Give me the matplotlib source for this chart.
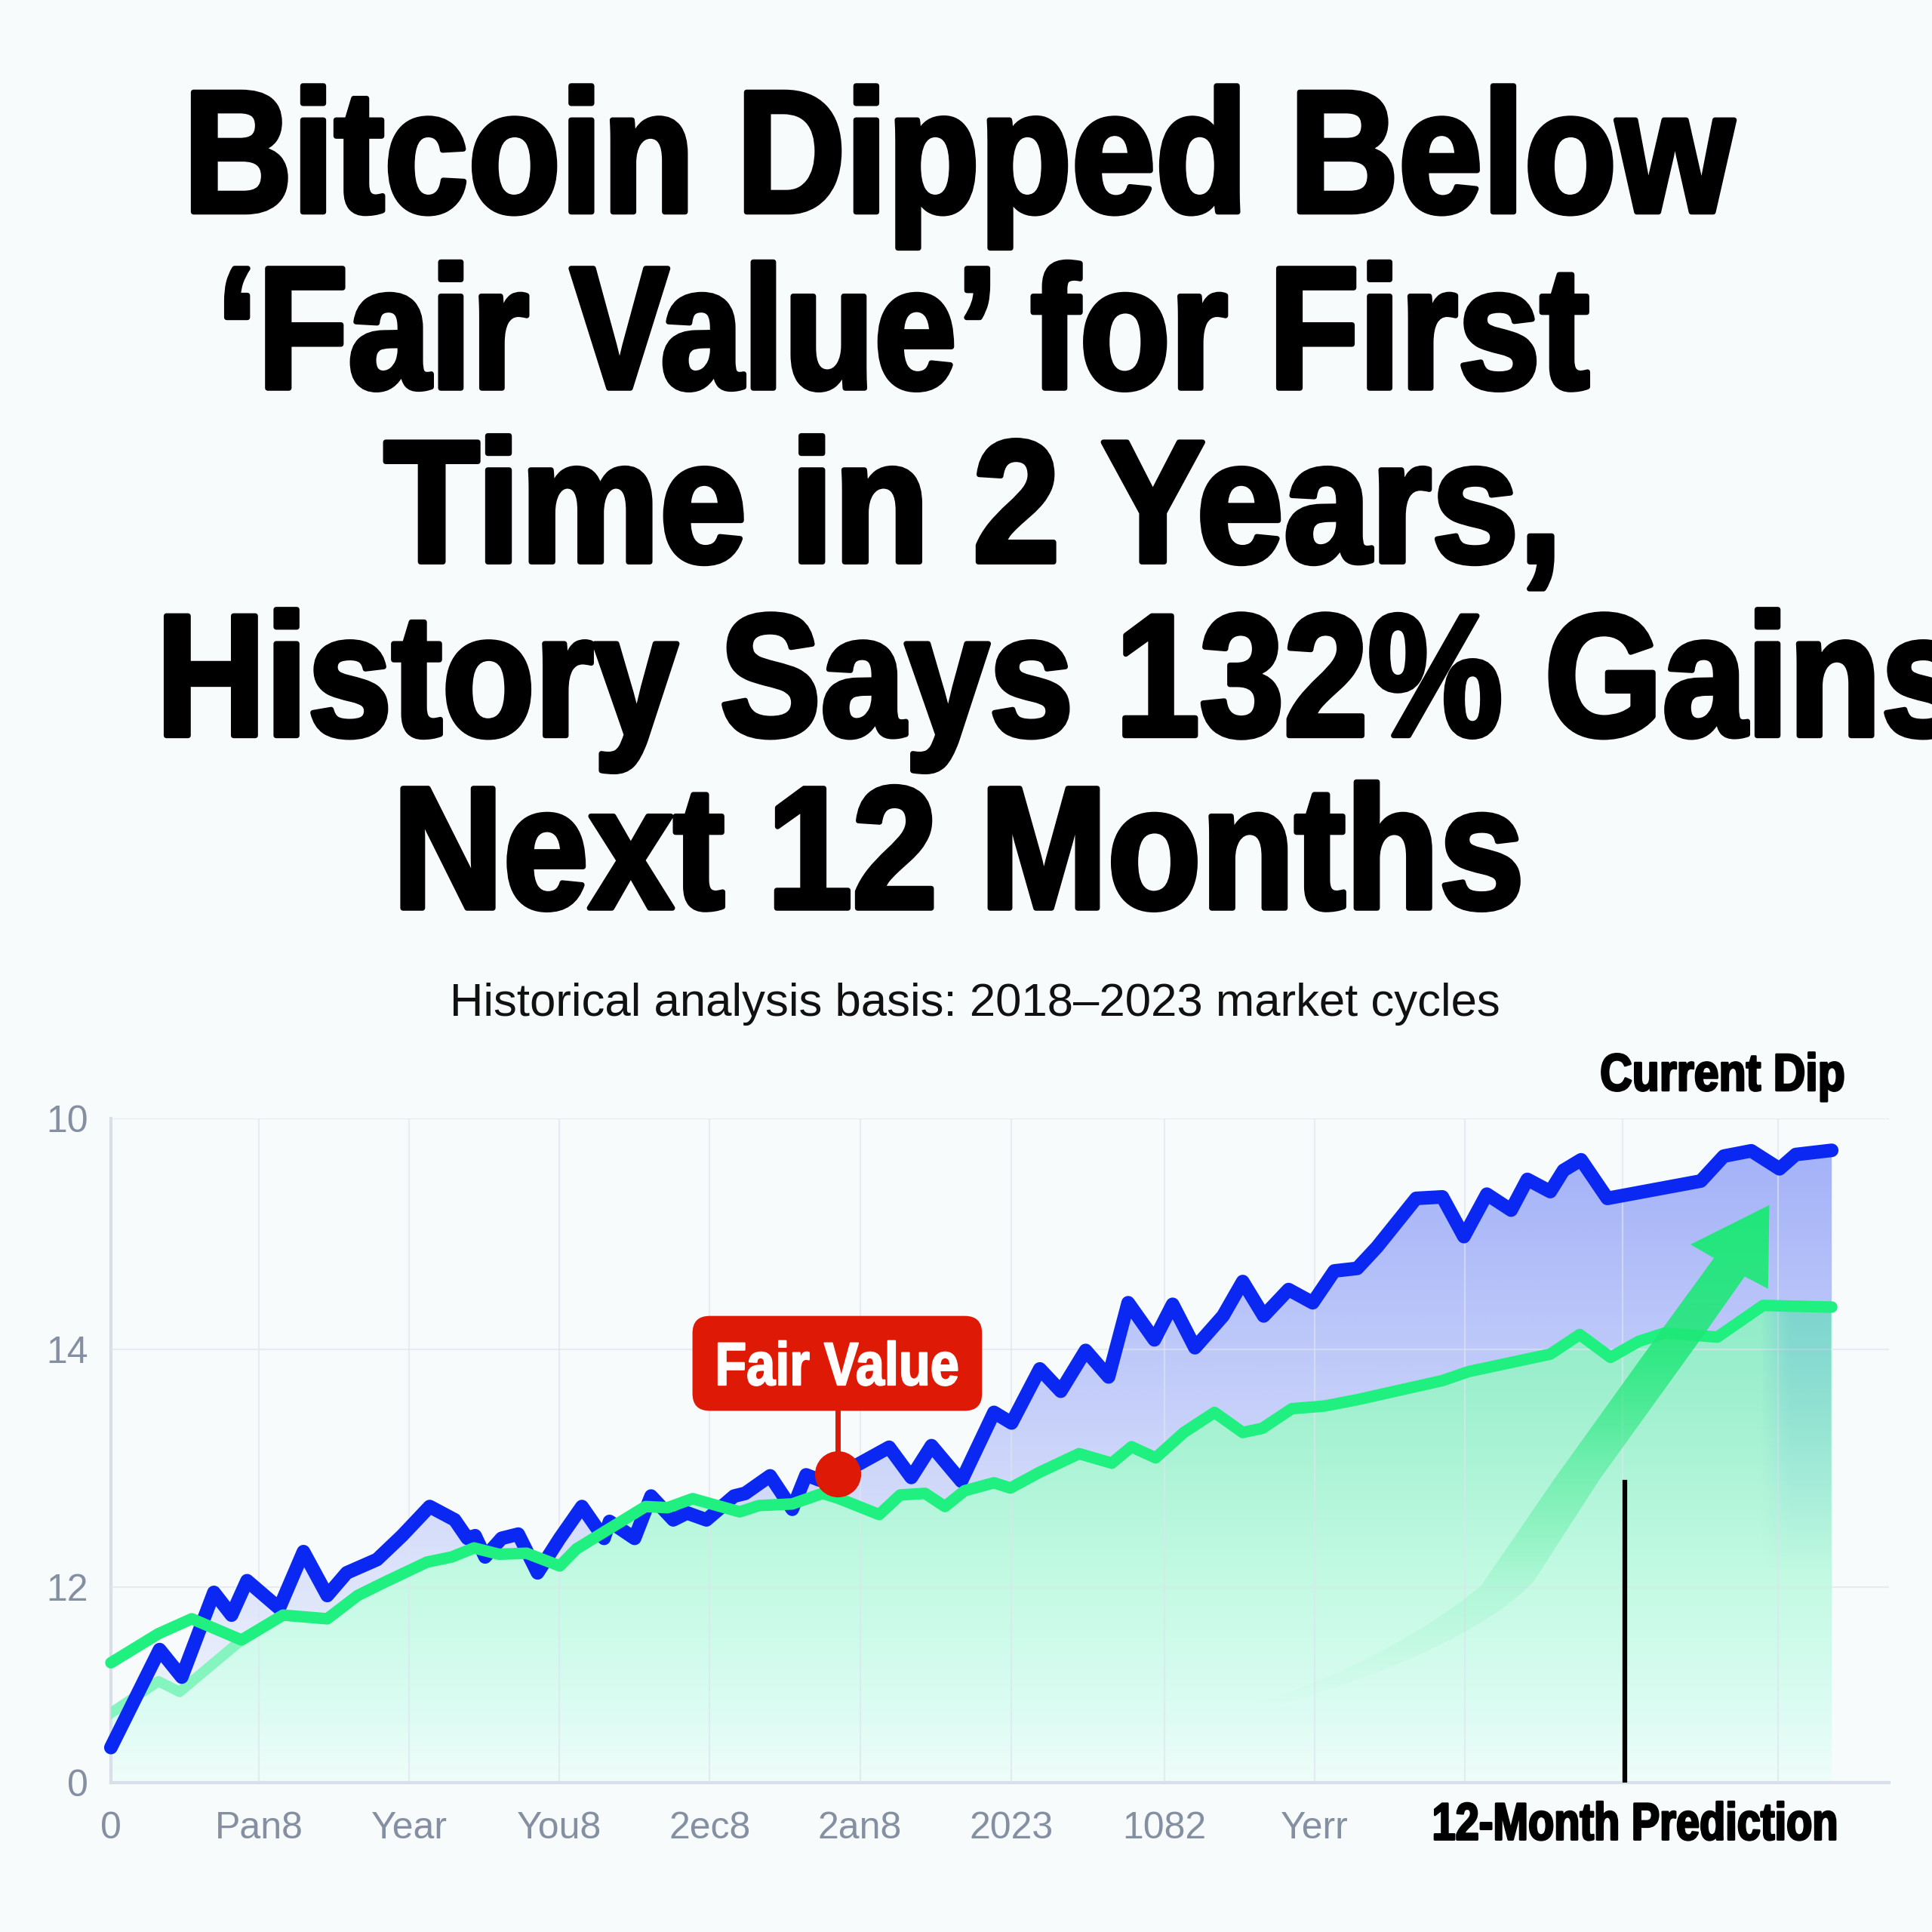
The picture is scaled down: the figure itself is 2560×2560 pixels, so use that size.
#!/usr/bin/env python3
# -*- coding: utf-8 -*-
import numpy as np
import matplotlib
matplotlib.use('Agg')
import matplotlib.pyplot as plt
from matplotlib.patches import FancyBboxPatch, PathPatch, Polygon
from matplotlib.path import Path
from matplotlib.text import Text
from matplotlib.textpath import TextPath
from matplotlib.transforms import Affine2D, Bbox

#%%============================================================================
# Values
#==============================================================================
blue_x = [0, 39.5, 57.5, 83.6, 97.9, 110.5, 136.6, 156.3, 175.6, 191.4, 216, 236.3, 258.7, 279,
          289.3, 295.6, 303.7, 317.1, 330.6, 346.3, 364.3, 382.3, 400.2, 404.7, 425, 438.4, 456.4,
          467.6, 483.3, 505.8, 514.8, 535, 553, 564.2, 575.4, 591, 631.6, 649.6, 666, 690.2, 716.7,
          731, 753.9, 770.9, 791.1, 809.7, 825.6, 846.9, 861.7, 879.8, 902.6, 918.6, 935.6, 955.8,
          975.4, 992.9, 1011.5, 1027.5, 1059.3, 1080.6, 1098.1, 1116.7, 1136.4, 1149.6, 1168.2,
          1178.9, 1193.2, 1214.5, 1290.4, 1309, 1331.3, 1354.2, 1367.4, 1396.6]
blue_y = [28.7, 108.2, 85.9, 154.6, 136.2, 164.1, 141.7, 187.7, 152.1, 170.5, 181.3, 200.6, 224.3,
          213.5, 198.5, 200.6, 183.4, 198.5, 201.9, 170.5, 198.5, 224.3, 198.5, 212.2, 198.5, 232.8,
          213.5, 219.1, 213.5, 232.8, 235, 249.2, 222.1, 250, 245.7, 250, 272.4, 247.9, 273.7, 244.9,
          300.7, 292.1, 336, 317.9, 351, 329.5, 389.7, 359.6, 388.4, 353.2, 379, 406.9, 379, 400.4,
          389.7, 415.5, 417.6, 434.8, 474.4, 475.6, 443.4, 477.8, 464.9, 489.8, 479.9, 497.1, 505.7,
          474.4, 488.5, 508.7, 513, 498.4, 510, 513.4]

green_x = [0, 38.6, 65.6, 106, 139.7, 175.6, 200.3, 222.8, 256.5, 276.7, 294.7, 314.9, 337.4, 364.3,
           377.8, 433.9, 451.9, 472.1, 510.3, 526, 553, 577.7, 591.1, 623.5, 640.6, 660.8, 676.9,
           692.8, 716.7, 730, 753.9, 785.8, 812.3, 828.3, 847.9, 870.8, 895.7, 918.6, 934.5, 958.4,
           985, 1011.5, 1080.6, 1101.8, 1168.2, 1192.1, 1217.1, 1239.9, 1261.2, 1303.7, 1340.9, 1396.6]
green_y = [97.5, 121.1, 133.2, 116, 136.2, 133.2, 152.1, 163.2, 179.2, 183.4, 190.7, 185.6, 186.4,
           176.1, 189.9, 224.3, 223.4, 230.7, 220, 225.1, 226.4, 235, 230.7, 217.8, 233.7, 235, 224.3,
           237.1, 243.6, 239.3, 252.2, 267.2, 259.5, 272.8, 263.8, 284.4, 300.7, 284.4, 287.8, 303.7,
           305.9, 311, 326.5, 333.8, 348, 363.9, 345.4, 358.3, 365.2, 361.8, 387.5, 386.2]

# faint start of the green band
faint_x = [0, 38.6, 55.7, 106]
faint_y = [56.7, 82.5, 73.9, 116]

fair_value_x = 590
fair_value_y = 251
prediction_x = 1229
prediction_top = 244

x_grid = [0, 120, 242, 364, 486, 608, 731, 855, 977, 1099, 1227, 1353]
x_labels = ['0', 'Pan8', 'Year', 'You8', '2ec8', '2an8', '2023', '1082', 'Yerr', '', '', '']
y_grid = [0, 159, 352, 539]
y_labels = ['0', '12', '14', '10']

title_lines = ['Bitcoin Dipped Below', '\u2018Fair Value\u2019 for First', 'Time in 2 Years,',
               'History Says 132% Gains', 'Next 12 Months']
title_left = [157, 184, 313, 135, 327]
title_base = [172, 315, 456, 597, 737]
title_squeeze = [0.867, 0.85, 0.90, 0.87, 0.88]

#%%============================================================================
# Helpers
#==============================================================================
S = 1568.0
BG = '#F8FBFC'
SANS = ['Liberation Sans', 'DejaVu Sans']


class SqueezedText(Text):
    # no condensed heavy font is installed, so narrow the glyphs when drawing
    def __init__(self, x, y, text, squeeze=1.0, stroke=0.0, **kw):
        super().__init__(x, y, text, **kw)
        self.squeeze = squeeze
        self.stroke = stroke

    def _outline(self):
        dpi = self.get_figure().dpi
        tp = TextPath((0, 0), self.get_text(), prop=self.get_fontproperties())
        ext = tp.get_extents()
        x, y = self.get_transform().transform(self.get_position())
        k = self.squeeze * dpi / 72
        if self.get_ha() == 'center':
            x -= 0.5 * (ext.x0 + ext.x1) * k
        else:
            x -= ext.x0 * k
        return tp, Affine2D().scale(k, dpi / 72).translate(x, y)

    def draw(self, renderer):
        tp, tr = self._outline()
        gc = renderer.new_gc()
        gc.set_foreground(self.get_color())
        gc.set_linewidth(self.stroke)
        gc.set_joinstyle('round')
        renderer.draw_path(gc, tp, tr, matplotlib.colors.to_rgba(self.get_color()))
        gc.restore()
        self.stale = False

    def get_window_extent(self, renderer=None, dpi=None):
        tp, tr = self._outline()
        return Bbox(tr.transform(tp.get_extents().get_points()))


def gradient(ax, patch, y0, y1, stops_y, colors, zorder, x_fade=None):
    # vertical gradient, clipped to a patch; x_fade = (x0, x1) ramps alpha sideways
    yy = np.linspace(y1, y0, 400)
    img = np.zeros((400, 300, 4))
    for i in range(4):
        img[:, :, i] = np.interp(yy, stops_y, [c[i] for c in colors])[:, None]
    if x_fade is not None:
        xx = np.linspace(0, 1443, 300)
        img[:, :, 3] *= np.interp(xx, x_fade, [0, 1])
    im = ax.imshow(img, extent=[0, 1443, y0, y1], aspect='auto', origin='upper',
                   zorder=zorder, interpolation='bilinear')
    patch.set_transform(ax.transData)
    im.set_clip_path(patch)


def label(x, y, s, squeeze, size, stroke):
    fig.add_artist(SqueezedText(x / S, 1 - y / S, s, squeeze=squeeze, stroke=stroke,
                                transform=fig.transFigure, family=SANS, weight='bold',
                                fontsize=size, color='black', ha='center', va='baseline'))


fig = plt.figure(figsize=(25.6, 25.6), dpi=100, facecolor=BG)
ax = fig.add_axes([90 / S, 1 - 1447 / S, 1443 / S, 539 / S], facecolor='none')

#%%============================================================================
# Area fills
#==============================================================================
blue_poly = Polygon(list(zip(blue_x, blue_y)) + [(blue_x[-1], 0), (0, 0)], closed=True)
gradient(ax, blue_poly, 0, 520, [0, 520],
         [(0.30, 0.40, 0.96, 0.0), (0.30, 0.40, 0.96, 0.50)], 1)

keep = [i for i in range(len(green_x)) if green_x[i] > faint_x[-1]]
top_x = faint_x + [green_x[i] for i in keep]
top_y = faint_y + [green_y[i] for i in keep]
green_poly = Polygon(list(zip(top_x, top_y)) + [(top_x[-1], 0), (0, 0)], closed=True)
gradient(ax, green_poly, 0, 400, [0, 60, 170, 320, 400],
         [(0.93, 1.0, 0.98, 0.75), (0.86, 0.99, 0.95, 1.0), (0.76, 0.98, 0.89, 1.0),
          (0.62, 0.94, 0.81, 1.0), (0.56, 0.92, 0.78, 1.0)], 2)

# teal band on the right end
band = Polygon([(1340, 386), (1396, 386), (1396, 0), (1340, 0)], closed=True)
gradient(ax, band, 0, 400, [170, 390],
         [(0.40, 0.75, 0.85, 0.0), (0.40, 0.72, 0.85, 0.45)], 3, x_fade=(1340, 1365))

#%%============================================================================
# Grid and axes
#==============================================================================
ax.set_xlim(0, 1443)
ax.set_ylim(0, 539)
ax.set_xticks(x_grid)
ax.set_xticklabels(x_labels)
ax.set_yticks(y_grid)
ax.set_yticklabels(y_labels)
ax.grid(True, color='#DDE5EE', lw=1.6, alpha=0.65, zorder=3.5)
ax.set_axisbelow(False)
ax.tick_params(length=0, pad=27, labelsize=36, labelcolor='#858FA2')
for lab in ax.get_xticklabels() + ax.get_yticklabels():
    lab.set_family(SANS)
ax.tick_params(axis='y', pad=22)
for s in ['top', 'right']:
    ax.spines[s].set_visible(False)
for s in ['left', 'bottom']:
    ax.spines[s].set_color('#D8DEE8')
    ax.spines[s].set_linewidth(3)

#%%============================================================================
# Lines
#==============================================================================
ax.plot(faint_x, faint_y, color='#84F5BE', lw=10, zorder=3.8)
ax.plot(blue_x, blue_y, color='#0A28F2', lw=13, zorder=4, solid_joinstyle='round',
        solid_capstyle='round', clip_on=False)
ax.plot(green_x, green_y, color='#1FF07F', lw=11, zorder=5, solid_joinstyle='round',
        solid_capstyle='round', clip_on=False)

#%%============================================================================
# Prediction arrow
#==============================================================================
shaft_verts = [(921, 62), (1000, 85), (1070, 125), (1112, 160), (1171, 246), (1245, 349),
               (1301, 426), (1282, 437), (1346, 469), (1345, 401), (1326, 411), (1288, 357),
               (1208, 246), (1155, 164), (1120, 125), (1030, 85), (930, 58), (921, 62)]
shaft_codes = [Path.MOVETO, Path.CURVE4, Path.CURVE4, Path.CURVE4, Path.LINETO, Path.LINETO,
               Path.LINETO, Path.LINETO, Path.LINETO, Path.LINETO, Path.LINETO, Path.LINETO,
               Path.LINETO, Path.LINETO, Path.CURVE4, Path.CURVE4, Path.CURVE4, Path.CLOSEPOLY]
arrow = PathPatch(Path(shaft_verts, shaft_codes))
gradient(ax, arrow, 50, 475, [60, 160, 260, 350, 475],
         [(0.12, 0.91, 0.47, 0.0), (0.12, 0.91, 0.47, 0.12), (0.12, 0.91, 0.47, 0.42),
          (0.12, 0.91, 0.47, 0.85), (0.12, 0.91, 0.47, 1.0)], 6)
ax.set_xlim(0, 1443)
ax.set_ylim(0, 539)

ax.plot([prediction_x, prediction_x], [0, prediction_top], color='black', lw=4.5, zorder=7)

#%%============================================================================
# Fair value callout
#==============================================================================
box = FancyBboxPatch((486, 316), 207, 49, boxstyle='round,pad=14,rounding_size=14',
                     fc='#DE1A06', ec='none', zorder=8)
ax.add_patch(box)
ax.plot([fair_value_x, fair_value_x], [fair_value_y, 304], color='#DE1A06', lw=5, zorder=8)
ax.plot([fair_value_x], [fair_value_y], 'o', color='#DE1A06', ms=44, mew=0, zorder=9)

#%%============================================================================
# Title and labels
#==============================================================================
for line, lft, base, sq in zip(title_lines, title_left, title_base, title_squeeze):
    fig.add_artist(SqueezedText(lft / S, 1 - base / S, line, squeeze=sq, stroke=5,
                                transform=fig.transFigure, family=SANS, weight='bold',
                                fontsize=166, color='black', ha='left', va='baseline'))

fig.text(791 / S, 1 - 815 / S, 'Historical analysis basis: 2018\u20132023 market cycles',
         family=SANS, fontsize=44.4, color='#111111', ha='center', va='center')
label(1398, 885, 'Current Dip', 0.85, 50, 2)
label(1327, 1493, '12-Month Prediction', 0.806, 50, 2)

fair_label = SqueezedText(680 / S, 1 - 1124 / S, 'Fair Value', squeeze=0.85, stroke=1.5,
                          transform=fig.transFigure, family=SANS, weight='bold',
                          fontsize=58, color='white', ha='center', va='baseline', zorder=10)
fig.add_artist(fair_label)

fig.savefig('out.png', dpi=100, facecolor=BG)
